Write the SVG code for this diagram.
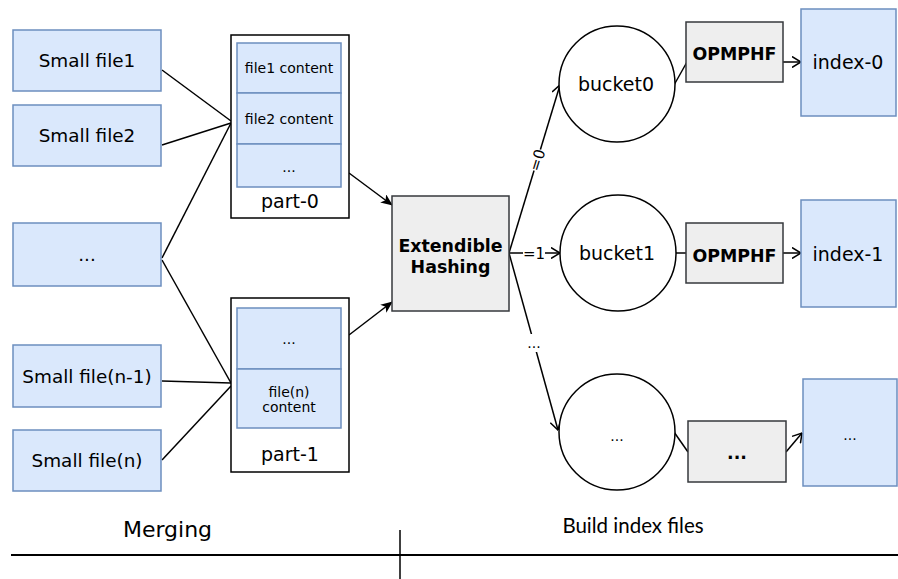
<svg xmlns="http://www.w3.org/2000/svg" width="898" height="579" viewBox="0 0 898 579">
  <style>
    .blue { fill: #dae8fc; stroke: #6c8ebf; stroke-width: 1.5; }
    .gray { fill: #eeeeee; stroke: #36393d; stroke-width: 1.5; }
    .frame { fill: #ffffff; stroke: #000000; stroke-width: 1.5; }
    .circle { fill: #ffffff; stroke: #000000; stroke-width: 1.5; }
    .edge { fill: none; stroke: #000000; stroke-width: 1.5; }
    .t { font-family: "DejaVu Sans", Verdana, sans-serif; fill: #000000; text-anchor: middle; }
    .lg { font-size: 18.4px; }
    .xl { font-size: 19px; }
    .md { font-size: 14px; }
    .pl { font-size: 19px; }
    .b { font-size: 17.4px; font-weight: bold; }
    .lbl { font-size: 15px; }
    .cap { font-family: Lato, "Open Sans", sans-serif; font-size: 20.5px; fill: #000000; text-anchor: middle; }
  </style>
  <defs>
    <marker id="block" viewBox="0 0 12 10" refX="11" refY="5" markerWidth="12" markerHeight="10" markerUnits="userSpaceOnUse" orient="auto">
      <path d="M0,0 L12,5 L0,10 L3,5 Z" fill="#000000"/>
    </marker>
    <marker id="open" viewBox="0 0 10 12" refX="9.5" refY="6" markerWidth="10" markerHeight="12" markerUnits="userSpaceOnUse" orient="auto">
      <path d="M0.5,0.5 L9.5,6 L0.5,11.5" fill="none" stroke="#000000" stroke-width="1.5"/>
    </marker>
  </defs>

  <rect width="898" height="579" fill="#ffffff"/>

  <!-- connectors -->
  <g id="connectors">
    <line class="edge" x1="162" y1="70" x2="231" y2="121"/>
    <line class="edge" x1="162" y1="145" x2="231" y2="123"/>
    <line class="edge" x1="162" y1="258" x2="231" y2="123"/>
    <line class="edge" x1="162" y1="260" x2="231" y2="383"/>
    <line class="edge" x1="162" y1="381" x2="231" y2="383"/>
    <line class="edge" x1="162" y1="460" x2="231" y2="386"/>
    <line class="edge" x1="349" y1="173" x2="392" y2="205" marker-end="url(#block)"/>
    <line class="edge" x1="349" y1="335" x2="392" y2="302" marker-end="url(#block)"/>
    <line class="edge" x1="509" y1="253" x2="560" y2="85" marker-end="url(#open)"/>
    <line class="edge" x1="509" y1="253" x2="560" y2="253" marker-end="url(#open)"/>
    <line class="edge" x1="509" y1="253" x2="558" y2="430" marker-end="url(#open)"/>
    <line class="edge" x1="674" y1="85" x2="687" y2="62"/>
    <line class="edge" x1="783" y1="62" x2="801" y2="62" marker-end="url(#open)"/>
    <line class="edge" x1="676" y1="253" x2="686" y2="253"/>
    <line class="edge" x1="783" y1="253" x2="801" y2="253" marker-end="url(#open)"/>
    <line class="edge" x1="674" y1="432" x2="688" y2="452"/>
    <line class="edge" x1="786" y1="452" x2="802" y2="433" marker-end="url(#open)"/>
    <!-- edge labels -->
    <g transform="translate(537,160) rotate(-73)">
      <rect x="-11" y="-8" width="22" height="16" fill="#ffffff"/>
      <text class="t lbl" x="0" y="5.5">=0</text>
    </g>
    <rect x="523" y="245" width="22" height="16" fill="#ffffff"/>
    <text class="t lbl" x="534" y="258.5">=1</text>
    <rect x="525" y="334" width="20" height="18" fill="#ffffff"/>
    <text class="t md" x="534" y="348">...</text>
  </g>

  <!-- source files -->
  <g id="small-file1">
    <rect class="blue" x="13" y="30" width="148" height="61"/>
    <text class="t lg" x="87" y="67">Small file1</text>
  </g>
  <g id="small-file2">
    <rect class="blue" x="13" y="105" width="148" height="61"/>
    <text class="t lg" x="87" y="142">Small file2</text>
  </g>
  <g id="small-file-more">
    <rect class="blue" x="13" y="223" width="148" height="63"/>
    <text class="t lg" x="87" y="261">...</text>
  </g>
  <g id="small-file-n-1">
    <rect class="blue" x="13" y="345" width="148" height="62"/>
    <text class="t lg" x="87" y="383">Small file(n-1)</text>
  </g>
  <g id="small-file-n">
    <rect class="blue" x="13" y="430" width="148" height="61"/>
    <text class="t lg" x="87" y="467">Small file(n)</text>
  </g>

  <!-- merged parts -->
  <g id="part-0">
    <rect class="frame" x="231" y="35" width="118" height="183"/>
    <rect class="blue" x="237" y="43" width="104" height="50"/>
    <rect class="blue" x="237" y="93" width="104" height="51"/>
    <rect class="blue" x="237" y="144" width="104" height="43"/>
    <text class="t md" x="289" y="73">file1 content</text>
    <text class="t md" x="289" y="124">file2 content</text>
    <text class="t md" x="289" y="172">...</text>
    <text class="t pl" x="290" y="208">part-0</text>
  </g>
  <g id="part-1">
    <rect class="frame" x="231" y="298" width="118" height="174"/>
    <rect class="blue" x="237" y="308" width="104" height="61"/>
    <rect class="blue" x="237" y="369" width="104" height="59"/>
    <text class="t md" x="289" y="344">...</text>
    <text class="t md" x="289" y="397">file(n)</text>
    <text class="t md" x="289" y="412">content</text>
    <text class="t pl" x="290" y="461">part-1</text>
  </g>

  <!-- hashing -->
  <g id="extendible-hashing">
    <rect class="gray" x="392" y="196" width="117" height="115"/>
    <text class="t b" x="450.5" y="252">Extendible</text>
    <text class="t b" x="450.5" y="273">Hashing</text>
  </g>

  <!-- buckets -->
  <g id="bucket0">
    <circle class="circle" cx="617" cy="84" r="58"/>
    <text class="t xl" x="616" y="91">bucket0</text>
  </g>
  <g id="bucket1">
    <circle class="circle" cx="618" cy="253" r="58"/>
    <text class="t xl" x="617" y="260">bucket1</text>
  </g>
  <g id="bucket-more">
    <circle class="circle" cx="617" cy="432" r="58"/>
    <text class="t md" x="617" y="441">...</text>
  </g>

  <!-- hash functions -->
  <g id="opmphf-0">
    <rect class="gray" x="686" y="22" width="97" height="60"/>
    <text class="t b" x="734.5" y="60">OPMPHF</text>
  </g>
  <g id="opmphf-1">
    <rect class="gray" x="686" y="223" width="97" height="60"/>
    <text class="t b" x="734.5" y="262">OPMPHF</text>
  </g>
  <g id="opmphf-more">
    <rect class="gray" x="688" y="421" width="98" height="61"/>
    <text class="t b" x="737" y="459">...</text>
  </g>

  <!-- index files -->
  <g id="index-0">
    <rect class="blue" x="801" y="9" width="95" height="107"/>
    <text class="t xl" x="848" y="69">index-0</text>
  </g>
  <g id="index-1">
    <rect class="blue" x="801" y="200" width="95" height="107"/>
    <text class="t xl" x="848" y="261">index-1</text>
  </g>
  <g id="index-more">
    <rect class="blue" x="803" y="379" width="94" height="107"/>
    <text class="t md" x="850" y="440">...</text>
  </g>

  <!-- phase divider -->
  <g id="phases">
    <line x1="11" y1="555" x2="898" y2="555" stroke="#000000" stroke-width="2"/>
    <line x1="400" y1="530" x2="400" y2="579" stroke="#000000" stroke-width="1.5"/>
    <text class="t" x="167.5" y="537" font-size="22px">Merging</text>
    <text class="cap" x="633" y="533">Build index files</text>
  </g>
</svg>
